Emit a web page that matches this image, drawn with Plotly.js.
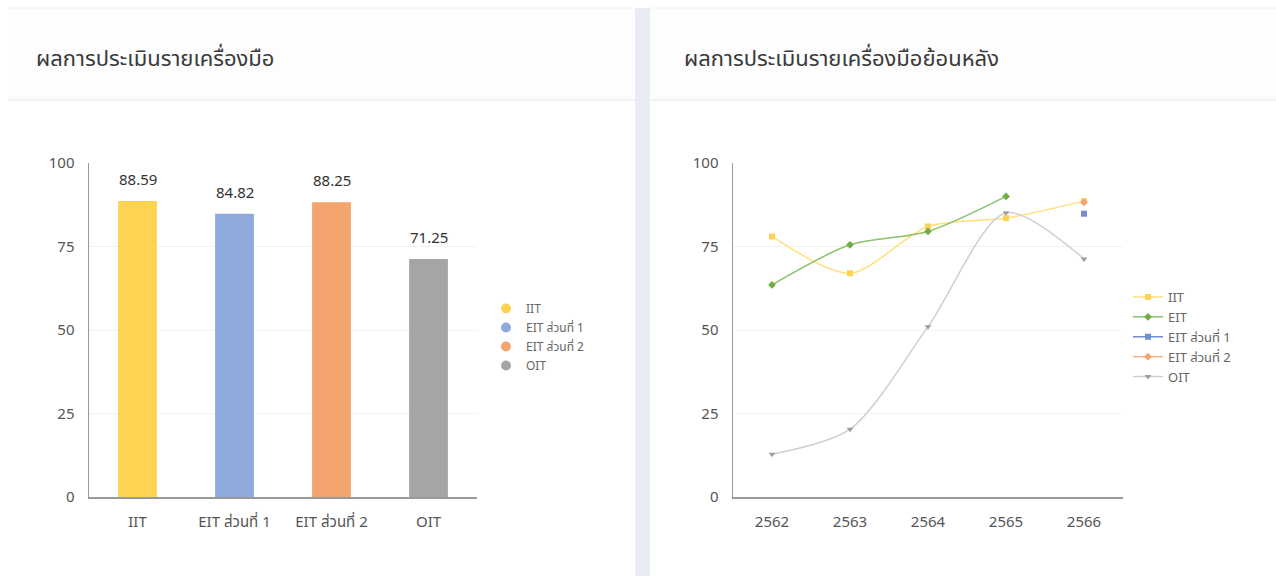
<!DOCTYPE html>
<html>
<head>
<meta charset="utf-8">
<script src="https://cdn.plot.ly/plotly-3.0.1.min.js"></script>
<style>
  html, body { margin: 0; padding: 0; background: #ffffff; }
  #chart { width: 1276px; height: 576px; }
</style>
</head>
<body>
<div id="chart"></div>
<script>
// ---- Data ----
const barCategories = ['IIT', 'EIT ส่วนที่ 1', 'EIT ส่วนที่ 2', 'OIT'];
const barValues = [88.59, 84.82, 88.25, 71.25];

const years = ['2562', '2563', '2564', '2565', '2566'];
const iitTrend = [78, 67, 81, 83.5, 88.59];
const eitTrend = [63.5, 75.5, 79.5, 90, null];
const eit1Trend = [null, null, null, null, 84.82];
const eit2Trend = [null, null, null, null, 88.25];
const oitTrend = [12.8, 20.3, 51, 85.1, 71.25];

const yTicks = [0, 25, 50, 75, 100];

const leftTitle = 'ผลการประเมินรายเครื่องมือ';
const rightTitle = 'ผลการประเมินรายเครื่องมือย้อนหลัง';

// ---- Styles ----
const W = 1276, H = 576;
const px = v => v / W;
const py = v => 1 - v / H;
const FONT = '"Noto Sans", "Noto Sans Thai", Lato, sans-serif';
const barColors = ['#FDD352', '#8EA9DB', '#F4A46E', '#A5A5A5'];

const traces = [];
barCategories.forEach((c, i) => {
  traces.push({
    type: 'bar', x: [c], y: [barValues[i]], width: 0.4,
    marker: { color: barColors[i] }, xaxis: 'x', yaxis: 'y',
    showlegend: false, hoverinfo: 'x+y'
  });
  traces.push({
    type: 'scatter', mode: 'markers', x: [null], y: [null], name: c,
    marker: { symbol: 'circle', size: 10, color: barColors[i] },
    xaxis: 'x', yaxis: 'y', legend: 'legend', showlegend: true
  });
});

const lineDefs = [
  { name: 'IIT', y: iitTrend, line: '#FFE07A', marker: '#FDD352', symbol: 'square' },
  { name: 'EIT', y: eitTrend, line: '#8CC26A', marker: '#70AD47', symbol: 'diamond' },
  { name: 'EIT ส่วนที่ 1', y: eit1Trend, line: '#6F8FCF', marker: '#6F8FCF', symbol: 'square' },
  { name: 'EIT ส่วนที่ 2', y: eit2Trend, line: '#F4B183', marker: '#F4A46E', symbol: 'diamond' },
  { name: 'OIT', y: oitTrend, line: '#CFCFCF', marker: '#9E9E9E', symbol: 'triangle-down' }
];
lineDefs.forEach(d => {
  traces.push({
    type: 'scatter', mode: 'lines+markers', x: years, y: d.y, name: d.name,
    line: { color: d.line, width: 1.5, shape: 'spline', smoothing: 0.8 },
    marker: { color: d.marker, symbol: d.symbol, size: 6 },
    connectgaps: false, xaxis: 'x2', yaxis: 'y2', legend: 'legend2'
  });
});

const annotations = [
  { text: leftTitle, xref: 'paper', yref: 'paper', x: px(34), y: py(57), xanchor: 'left', yanchor: 'middle',
    showarrow: false, font: { family: FONT, size: 22, color: '#3a3a3a' } },
  { text: rightTitle, xref: 'paper', yref: 'paper', x: px(682), y: py(57), xanchor: 'left', yanchor: 'middle',
    showarrow: false, font: { family: FONT, size: 22, color: '#3a3a3a' } }
];
barCategories.forEach((c, i) => {
  annotations.push({
    text: barValues[i].toFixed(2), x: c, y: barValues[i], xref: 'x', yref: 'y',
    yanchor: 'bottom', yshift: 10, showarrow: false,
    font: { family: FONT, size: 15, color: '#333333' }
  });
});

const shapes = [
  { type: 'rect', xref: 'paper', yref: 'paper', x0: px(8), x1: px(635), y0: py(100), y1: py(8),
    fillcolor: '#FDFDFE', line: { width: 0 }, layer: 'below' },
  { type: 'rect', xref: 'paper', yref: 'paper', x0: px(650), x1: 1, y0: py(100), y1: py(8),
    fillcolor: '#FDFDFE', line: { width: 0 }, layer: 'below' },
  { type: 'rect', xref: 'paper', yref: 'paper', x0: px(635), x1: px(650), y0: 0, y1: py(8),
    fillcolor: '#E9EDF3', line: { width: 0 }, layer: 'below' },
  { type: 'line', xref: 'paper', yref: 'paper', x0: px(8), x1: px(635), y0: py(8), y1: py(8),
    line: { color: '#F0F1F3', width: 1 } },
  { type: 'line', xref: 'paper', yref: 'paper', x0: px(650), x1: 1, y0: py(8), y1: py(8),
    line: { color: '#F0F1F3', width: 1 } },
  { type: 'line', xref: 'paper', yref: 'paper', x0: px(8), x1: px(635), y0: py(100), y1: py(100),
    line: { color: '#F0F1F3', width: 2 } },
  { type: 'line', xref: 'paper', yref: 'paper', x0: px(650), x1: 1, y0: py(100), y1: py(100),
    line: { color: '#F0F1F3', width: 2 } }
];

const axisFont = { family: FONT, size: 15, color: '#555555' };
const xCommon = { type: 'category', showgrid: false, showline: true, linecolor: '#9a9a9a', linewidth: 1.5,
  ticks: '', tickfont: axisFont, fixedrange: true, zeroline: false, ticklabelstandoff: 10 };
const yCommon = { range: [0, 100], tickvals: yTicks, showgrid: true, gridcolor: '#F2F2F2', gridwidth: 1,
  showline: true, linecolor: '#9a9a9a', linewidth: 1.5, ticks: '', tickfont: axisFont,
  zeroline: false, fixedrange: true, ticklabelstandoff: 10 };

const layout = {
  width: W, height: H,
  margin: { l: 0, r: 0, t: 0, b: 0 },
  paper_bgcolor: '#ffffff', plot_bgcolor: 'rgba(0,0,0,0)',
  font: { family: FONT },
  barmode: 'overlay',
  xaxis: Object.assign({}, xCommon, { domain: [px(89), px(477)], anchor: 'y', range: [-0.5, 3.5],
    categoryarray: barCategories, categoryorder: 'array' }),
  yaxis: Object.assign({}, yCommon, { domain: [py(497), py(163)], anchor: 'x' }),
  xaxis2: Object.assign({}, xCommon, { domain: [px(733), px(1123)], anchor: 'y2', range: [-0.5, 4.5],
    categoryarray: years, categoryorder: 'array' }),
  yaxis2: Object.assign({}, yCommon, { domain: [py(497), py(163)], anchor: 'x2' }),
  legend: { x: px(486), y: py(294), xanchor: 'left', yanchor: 'top', bgcolor: 'rgba(0,0,0,0)',
    font: { family: FONT, size: 12, color: '#666666' }, itemwidth: 30, tracegroupgap: 0 },
  legend2: { x: px(1128), y: py(282), xanchor: 'left', yanchor: 'top', bgcolor: 'rgba(0,0,0,0)',
    font: { family: FONT, size: 13, color: '#666666' }, itemwidth: 30, tracegroupgap: 0 },
  annotations: annotations,
  shapes: shapes,
  showlegend: true
};

Plotly.newPlot('chart', traces, layout, { displayModeBar: false, staticPlot: true });
</script>
</body>
</html>
